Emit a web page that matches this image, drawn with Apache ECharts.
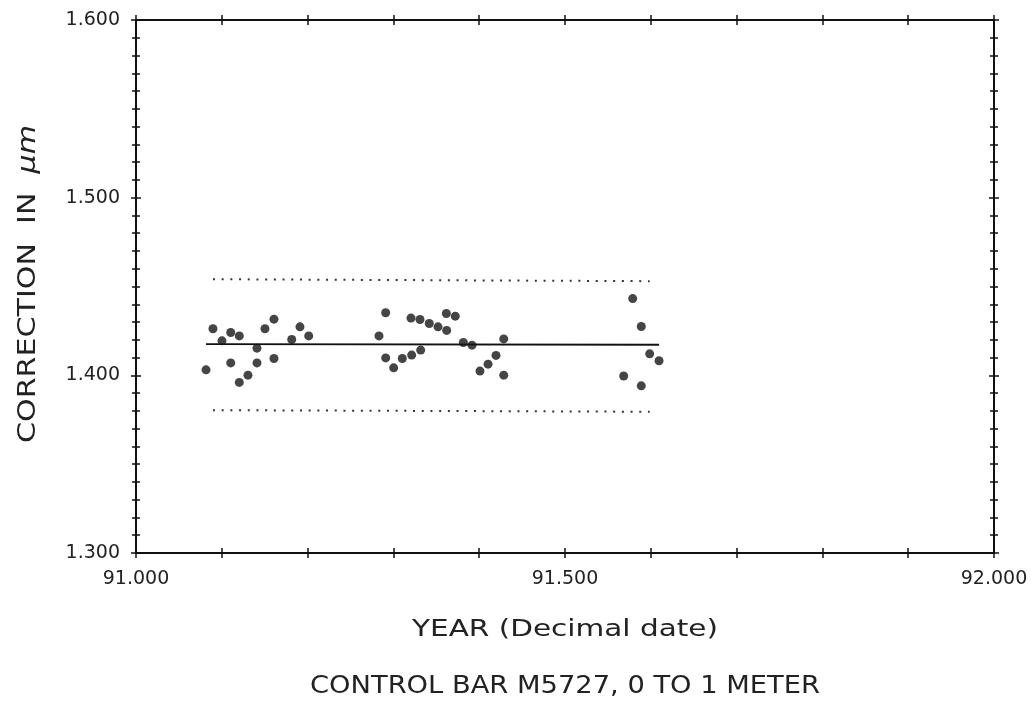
<!DOCTYPE html>
<html><head><meta charset="utf-8">
<script src="https://cdn.jsdelivr.net/npm/echarts@6/dist/echarts.min.js"></script>
<style>html,body{margin:0;padding:0;background:#fff}#c{width:1031px;height:704px}</style>
</head><body><div id="c"></div>
<script>
// Data
const years = [91.0816,91.0897,91.1002,91.1104,91.1104,91.1204,91.1204,91.1305,91.1410,91.1410,91.1503,91.1608,91.1608,91.1815,91.1911,91.2013,
  91.2832,91.2910,91.2910,91.3003,91.3104,91.3205,91.3213,91.3310,91.3318,91.3418,91.3520,91.3621,91.3617,91.3721,91.3815,91.3916,91.4009,91.4103,91.4196,91.4286,91.4286,
  91.5684,91.5789,91.5889,91.5889,91.5987,91.6096];
const corrections = [1.4031,1.4262,1.4194,1.4241,1.4070,1.4222,1.3960,1.4001,1.4153,1.4070,1.4262,1.4316,1.4095,1.4202,1.4273,1.4222,
  1.4222,1.4352,1.4098,1.4042,1.4095,1.4322,1.4114,1.4314,1.4142,1.4292,1.4273,1.4253,1.4348,1.4333,1.4185,1.4170,1.4024,1.4063,1.4112,1.4205,1.4001,
  1.3996,1.4432,1.4275,1.3941,1.4121,1.4082];
const meanLine = [[91.0816,1.4176],[91.6096,1.4172]];
const upperLimit = [[91.0897,1.4541],[91.5987,1.4530]];
const lowerLimit = [[91.0897,1.3804],[91.5987,1.3795]];
const xTicks = {min:91.0, max:92.0, interval:0.1};
const yTicks = {min:1.3, max:1.6, interval:0.1};
const xLabels = ['91.000','91.500','92.000'];
const yLabels = ['1.300','1.400','1.500','1.600'];
const xTitle = 'YEAR (Decimal date)';
const yTitleMain = 'CORRECTION  IN  ';
const yTitleUnit = 'μm';
const chartTitle = 'CONTROL BAR M5727, 0 TO 1 METER';

const FONT = 'DejaVu Sans';
const cv = document.createElement('canvas').getContext('2d');
function widthOf(t, size, style){ cv.font = (style||'') + ' ' + size + 'px "' + FONT + '"'; return cv.measureText(t).width; }

const chart = echarts.init(document.getElementById('c'));
const axLine = {show:true, onZero:false, lineStyle:{color:'#111', width:2}};
function xAx(pos, inside, labels){
  return {type:'value', position:pos, min:xTicks.min, max:xTicks.max, interval:xTicks.interval,
    axisLine:axLine, splitLine:{show:false},
    axisTick:{show:true, inside:inside, length:5, lineStyle:{color:'#111', width:1.5}},
    axisLabel:{show:labels, color:'#222', fontFamily:FONT, fontSize:19, margin:17,
      formatter:v=>{const s=v.toFixed(3); return xLabels.includes(s)?s:'';}}
  };
}
function yAx(pos, inside, labels){
  return {type:'value', position:pos, min:yTicks.min, max:yTicks.max, interval:yTicks.interval,
    axisLine:axLine, splitLine:{show:false},
    axisTick:{show:true, inside:inside, length:5, lineStyle:{color:'#111', width:1.5}},
    minorTick:{show:true, splitNumber:10, length:4, lineStyle:{color:'#111', width:1.5}},
    minorSplitLine:{show:false},
    axisLabel:{show:labels, color:'#222', fontFamily:FONT, fontSize:19, margin:16,
      formatter:v=>{const s=v.toFixed(3); return yLabels.includes(s)?s:'';}}
  };
}

const xTitleSize = 23, yTitleSize = 24, chartTitleSize = 24;
const xTitleScale = 306 / widthOf(xTitle, xTitleSize);
const yTitleScale = 318 / (widthOf(yTitleMain, yTitleSize) + widthOf(yTitleUnit, yTitleSize, 'italic'));
const chartTitleScale = 510 / widthOf(chartTitle, chartTitleSize);

chart.setOption({
  animation:false,
  backgroundColor:'#fff',
  grid:{left:136, right:37, top:20, bottom:151, containLabel:false},
  xAxis:[xAx('bottom',false,true), xAx('bottom',true,false), xAx('top',false,false), xAx('top',true,false)],
  yAxis:[yAx('left',false,true), yAx('left',true,false), yAx('right',false,false), yAx('right',true,false)],
  graphic:[
    {type:'text', x:565, y:630, scaleX:xTitleScale, silent:true,
      style:{text:xTitle, fill:'#222', font:xTitleSize+'px "'+FONT+'"', align:'center', verticalAlign:'middle', textAlign:'center', textVerticalAlign:'middle'}},
    {type:'text', x:565, y:687, scaleX:chartTitleScale, silent:true,
      style:{text:chartTitle, fill:'#222', font:chartTitleSize+'px "'+FONT+'"', align:'center', verticalAlign:'middle', textAlign:'center', textVerticalAlign:'middle'}},
    {type:'text', x:29, y:284, rotation:Math.PI/2, scaleX:yTitleScale, silent:true,
      style:{text:'{a|'+yTitleMain+'}{b|'+yTitleUnit+'}', fill:'#222', font:yTitleSize+'px "'+FONT+'"', align:'center', verticalAlign:'middle', textAlign:'center', textVerticalAlign:'middle',
        rich:{a:{fontFamily:FONT, fontSize:yTitleSize, fill:'#222', color:'#222'}, b:{fontFamily:FONT, fontSize:yTitleSize, fontStyle:'italic', fill:'#222', color:'#222'}}}}
  ],
  series:[
    {type:'line', data:meanLine, showSymbol:false, symbol:'none', lineStyle:{color:'#111', width:1.8}, z:2},
    {type:'line', data:upperLimit, showSymbol:false, symbol:'none', lineStyle:{color:'#333', width:2, type:[2,6.7]}, z:2},
    {type:'line', data:lowerLimit, showSymbol:false, symbol:'none', lineStyle:{color:'#333', width:2, type:[2,6.7]}, z:2},
    {type:'scatter', data:years.map((x,i)=>[x,corrections[i]]), symbol:'circle', symbolSize:9,
      itemStyle:{color:'#161616'}, z:3}
  ]
});
</script></body></html>
